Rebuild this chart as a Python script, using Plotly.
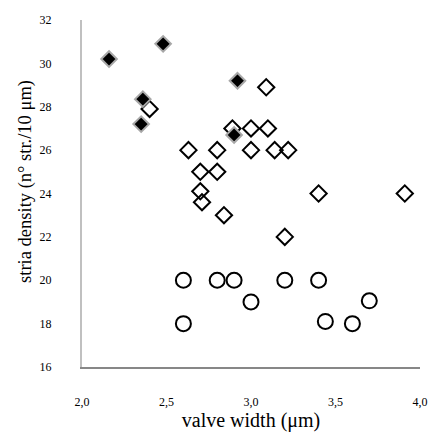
import plotly.graph_objects as go

# Filled diamonds
fd_x = [2.16, 2.48, 2.36, 2.35, 2.90, 2.92]
fd_y = [30.2, 30.9, 28.35, 27.2, 26.7, 29.2]

# Open diamonds
od_x = [2.40, 2.89, 3.00, 3.10, 3.09, 2.63, 2.80, 3.00, 3.14, 3.22, 2.70, 2.80, 2.70, 2.71, 2.84, 3.40, 3.91, 3.20]
od_y = [27.9, 27.0, 27.0, 27.0, 28.9, 26.0, 26.0, 26.0, 26.0, 26.0, 25.0, 25.0, 24.1, 23.6, 23.0, 24.0, 24.0, 22.0]

# Open circles
oc_x = [2.60, 2.80, 2.90, 3.20, 3.40, 3.00, 3.70, 2.60, 3.44, 3.60]
oc_y = [20.0, 20.0, 20.0, 20.0, 20.0, 19.0, 19.05, 18.0, 18.1, 18.0]

x_ticks = [2.0, 2.5, 3.0, 3.5, 4.0]
y_ticks = [16, 18, 20, 22, 24, 26, 28, 30, 32]

fig = go.Figure()
fig.add_trace(go.Scatter(x=od_x, y=od_y, mode="markers",
                         marker=dict(symbol="diamond-open", size=12.5, color="black", line=dict(width=2, color="black"))))
fig.add_trace(go.Scatter(x=oc_x, y=oc_y, mode="markers",
                         marker=dict(symbol="circle-open", size=15, color="black", line=dict(width=2, color="black"))))
fig.add_trace(go.Scatter(x=fd_x, y=fd_y, mode="markers",
                         marker=dict(symbol="diamond", size=12, color="black", line=dict(width=2, color="#a8a8a8"))))

font_family = "Liberation Serif"
fig.update_layout(
    width=428, height=437,
    margin=dict(l=82, r=8, t=20, b=70, autoexpand=False),
    paper_bgcolor="white", plot_bgcolor="white",
    showlegend=False,
    separators=", ",
    font=dict(family=font_family, color="black"),
    annotations=[dict(text="stria density (n° str./10 μm)", textangle=-90,
                      xref="paper", yref="paper", x=-0.169, y=0.536,
                      xanchor="center", yanchor="middle", showarrow=False,
                      font=dict(size=18.5, family=font_family, color="black"))],
)
fig.update_xaxes(
    range=[2, 4], tickvals=x_ticks, tickformat=".1f",
    showgrid=False, zeroline=False, automargin=False,
    showline=True, linecolor="#878787", linewidth=2,
    ticks="", ticklabelstandoff=23,
    tickfont=dict(size=12, family=font_family, color="black"),
    title=dict(text="valve width (μm)", font=dict(size=20, family=font_family, color="black"), standoff=3),
)
fig.update_yaxes(
    range=[16, 32], tickvals=y_ticks,
    showgrid=False, zeroline=False, automargin=False,
    showline=True, linecolor="#c0c0c0", linewidth=2,
    ticks="", ticklabelstandoff=26,
    tickfont=dict(size=12, family=font_family, color="black"),
)
fig.write_html("out.html")
